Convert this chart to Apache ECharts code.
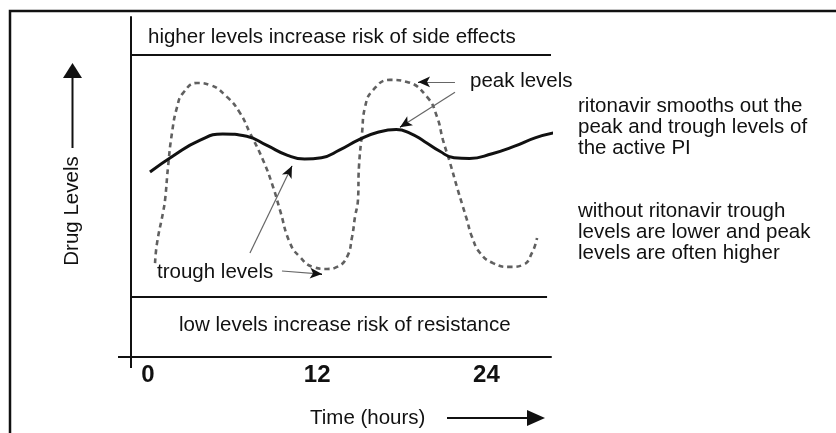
<!DOCTYPE html>
<html>
<head>
<meta charset="utf-8">
<script src="https://cdn.jsdelivr.net/npm/echarts@6/dist/echarts.min.js"></script>
<style>
html,body{margin:0;padding:0;background:#fff;}
#chart{width:836px;height:433px;}
</style>
</head>
<body>
<div id="chart"></div>
<script>
// ---- data (hours, drug level in arbitrary units 0-100) ----
const tickLabels = [0, 12, 24];

const solidHours  = [0.14, 1.8, 3.7, 5.3, 7.0, 8.4, 9.9, 11.1, 12.3, 13.6, 15.0, 16.3, 17.6, 18.6, 19.6, 20.7, 21.7, 22.8, 24.4, 26.0, 27.5, 28.9];
const solidLevels = [54.4, 59.2, 63.8, 65.6, 64.9, 62.3, 59.3, 58.2, 58.6, 60.9, 64.0, 66.1, 66.9, 65.8, 63.4, 60.5, 58.6, 58.4, 59.8, 62.0, 64.5, 66.0];

const dashedHours  = [0.50, 0.64, 1.06, 1.21, 1.42, 1.70, 2.06, 2.48, 3.48, 4.40, 5.60, 6.52, 7.23, 8.16, 8.87, 9.36, 10.07, 10.78, 11.70, 12.70, 13.40, 14.11, 14.47, 14.68, 14.89, 14.96, 15.18, 15.39, 15.96, 17.16, 18.37, 19.79, 20.50, 20.92, 21.42, 21.91, 22.34, 22.62, 22.98, 23.55, 24.47, 25.67, 26.60, 27.23, 27.59];
const dashedLevels = [27.6, 33.5, 42.4, 46.2, 55.9, 65.9, 73.5, 77.6, 80.6, 80.0, 76.5, 71.8, 65.9, 57.9, 50.0, 43.2, 33.5, 29.4, 26.5, 25.9, 26.5, 29.4, 35.3, 41.2, 46.2, 55.9, 65.9, 73.5, 78.5, 81.5, 80.9, 76.5, 70.6, 63.8, 57.1, 50.0, 44.1, 40.3, 35.3, 30.6, 27.6, 26.5, 27.1, 30.6, 35.0];

const highRiskLevel = 88.8;   // "higher levels increase risk of side effects"
const lowRiskLevel  = 17.6;   // "low levels increase risk of resistance"

// annotation arrows: [fromHour, fromLevel, toHour, toLevel]
const peakArrows   = [[21.77, 80.9, 19.15, 80.9], [21.77, 77.9, 17.87, 67.6]];
const troughArrows = [[9.50, 25.3, 12.34, 24.4], [7.23, 30.6, 10.21, 56.2]];

// ---- chart ----
const X_MIN = -1.206, X_MAX = 28.58;
const FONT = '"Liberation Sans", Arial, Helvetica, sans-serif';
const TXT = '20.5px ' + FONT;

const zip = (a, b) => a.map((v, i) => [v, b[i]]);
const allArrows = peakArrows.concat(troughArrows);
const shafts = allArrows.map(a => [{coord: [a[0], a[1]]}, {coord: [a[2], a[3]]}]);
const heads = allArrows.map(a => [
  {coord: [a[2] - (a[2] - a[0]) * 0.04, a[3] - (a[3] - a[1]) * 0.04], symbol: 'none'},
  {coord: [a[2], a[3]], symbol: 'arrow', symbolSize: [8, 12]}
]);

const chart = echarts.init(document.getElementById('chart'), null, {renderer: 'canvas'});
chart.setOption({
  animation: false,
  backgroundColor: '#fff',
  grid: {left: 131, top: 17, right: 285, bottom: 76, containLabel: false},
  xAxis: {
    type: 'value', min: X_MIN, max: X_MAX,
    splitLine: {show: false},
    axisLine: {show: true, onZero: false, lineStyle: {color: '#111', width: 2}},
    axisTick: {show: true, customValues: [X_MIN], length: 11, lineStyle: {color: '#111', width: 2}},
    axisLabel: {
      show: true, customValues: tickLabels, margin: 6,
      fontSize: 24, fontWeight: 'bold', color: '#111', fontFamily: FONT
    }
  },
  yAxis: {
    type: 'value', min: 0, max: 100,
    splitLine: {show: false},
    axisLine: {show: true, onZero: false, lineStyle: {color: '#111', width: 2}},
    axisTick: {show: true, customValues: [0], length: 13, lineStyle: {color: '#111', width: 2}},
    axisLabel: {show: false}
  },
  series: [
    {
      name: 'without ritonavir', type: 'line', smooth: 0.5, symbol: 'none', clip: false,
      data: zip(dashedHours, dashedLevels),
      lineStyle: {color: '#606060', width: 2.6, type: [5, 4]}
    },
    {
      name: 'with ritonavir', type: 'line', smooth: 0.5, symbol: 'none', clip: false,
      data: zip(solidHours, solidLevels),
      lineStyle: {color: '#111', width: 3}
    },
    {
      name: 'bands', type: 'line', data: [], silent: true,
      markLine: {
        silent: true, symbol: ['none', 'none'], label: {show: false},
        lineStyle: {color: '#111', width: 2, type: 'solid'},
        data: [
          [{coord: [X_MIN, highRiskLevel]}, {coord: [X_MAX, highRiskLevel]}],
          [{coord: [X_MIN, lowRiskLevel]}, {coord: [28.3, lowRiskLevel]}]
        ]
      }
    },
    {
      name: 'arrow shafts', type: 'line', data: [], silent: true,
      markLine: {
        silent: true, symbol: ['none', 'none'], label: {show: false},
        lineStyle: {color: '#666', width: 1.2, type: 'solid'},
        data: shafts
      }
    },
    {
      name: 'arrow heads', type: 'line', data: [], silent: true,
      markLine: {
        silent: true, label: {show: false},
        lineStyle: {color: '#111', width: 1, type: 'solid'},
        data: heads
      }
    }
  ],
  graphic: [
    // outer frame
    {type: 'polyline', shape: {points: [[10, 433], [10, 11], [836, 11]]}, style: {stroke: '#111', lineWidth: 2.5, fill: null}},
    // band captions
    {type: 'text', x: 148, y: 37, style: {text: 'higher levels increase risk of side effects', font: TXT, fill: '#111', verticalAlign: 'middle'}},
    {type: 'text', x: 179, y: 325, style: {text: 'low levels increase risk of resistance', font: TXT, fill: '#111', verticalAlign: 'middle'}},
    // annotation labels
    {type: 'text', x: 470, y: 81, style: {text: 'peak levels', font: TXT, fill: '#111', verticalAlign: 'middle'}},
    {type: 'text', x: 157, y: 272, style: {text: 'trough levels', font: TXT, fill: '#111', verticalAlign: 'middle'}},
    {type: 'text', x: 578, y: 96, style: {text: 'ritonavir smooths out the\npeak and trough levels of\nthe active PI', font: TXT, fill: '#111', lineHeight: 20.8, verticalAlign: 'top'}},
    {type: 'text', x: 578, y: 201, style: {text: 'without ritonavir trough\nlevels are lower and peak\nlevels are often higher', font: TXT, fill: '#111', lineHeight: 20.8, verticalAlign: 'top'}},
    // y-axis title with arrow
    {type: 'text', x: 72, y: 211, rotation: Math.PI / 2, style: {text: 'Drug Levels', font: TXT, fill: '#111', align: 'center', verticalAlign: 'middle'}},
    {type: 'line', shape: {x1: 72.5, y1: 148, x2: 72.5, y2: 76}, style: {stroke: '#111', lineWidth: 2}},
    {type: 'polygon', shape: {points: [[63, 78], [82, 78], [72.5, 63]]}, style: {fill: '#111'}},
    // x-axis title with arrow
    {type: 'text', x: 310, y: 418, style: {text: 'Time (hours)', font: TXT, fill: '#111', verticalAlign: 'middle'}},
    {type: 'line', shape: {x1: 447, y1: 418, x2: 530, y2: 418}, style: {stroke: '#111', lineWidth: 2}},
    {type: 'polygon', shape: {points: [[527, 410], [527, 426], [545, 418]]}, style: {fill: '#111'}}
  ]
});
</script>
</body>
</html>
